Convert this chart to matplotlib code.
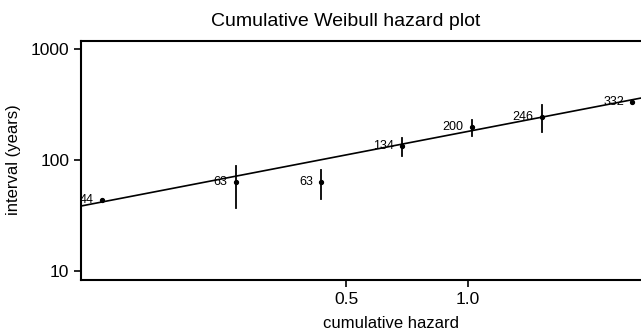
import numpy as np
import matplotlib

matplotlib.use('Agg')
import matplotlib.pyplot as plt

plt.rcParams['font.family'] = ['Liberation Sans', 'DejaVu Sans']

# 累积风险 / 间隔年数
hazard = [0.125, 0.267, 0.434, 0.687, 1.02, 1.52, 2.54]
interval = [44, 63, 63, 134, 200, 246, 332]
labels = ['44', '63', '63', '134', '200', '246', '332']
err_low = [None, 37, 44.5, 108, 164, 179, None]
err_high = [None, 88, 81, 158, 229, 313, None]

# Weibull 拟合: t = scale * H ** (1 / shape)
scale = 181.0
shape = 1.42

fig = plt.figure(figsize=(6.41, 3.29), dpi=100)
ax = fig.add_axes((81 / 641, 49 / 329, 560 / 641, 239 / 329))
ax.set_xscale('log')
ax.set_yscale('log')
ax.set_xlim(0.111, 2.67)
ax.set_ylim(8.3, 1180)

# 拟合直线
hh = np.array([0.111, 2.67])
ax.plot(hh, scale * hh ** (1 / shape), color='black', lw=1.2)

# 误差线
for h, lo, hi in zip(hazard, err_low, err_high):
    if lo is not None:
        ax.plot([h, h], [lo, hi], color='black', lw=1.3)

ax.plot(hazard, interval, 'o', color='black', ms=2.8)

for h, v, s in zip(hazard, interval, labels):
    ax.annotate(s, (h, v), xytext=(-6, 0), textcoords='offset points',
                ha='right', va='center', fontsize=9)

ax.set_yticks([10, 100, 1000])
ax.set_yticklabels(['10', '100', '1000'])
ax.set_xticks([0.5, 1.0])
ax.set_xticklabels(['0.5', '1.0'])
ax.minorticks_off()
ax.tick_params(axis='both', labelsize=12.5, length=5, width=1.2, color='black')
for sp in ['left', 'bottom', 'top']:
    ax.spines[sp].set_linewidth(1.5)
ax.spines['right'].set_visible(False)

fig.text(346 / 641, 1 - 22 / 329, 'Cumulative Weibull hazard plot', ha='center', va='center', fontsize=14)
fig.text(391 / 641, 1 - 323 / 329, 'cumulative hazard', ha='center', va='center', fontsize=12)
fig.text(14 / 641, 1 - 160 / 329, 'interval (years)', ha='center', va='center', rotation=90, fontsize=12)

plt.savefig('out.png', dpi=100)
